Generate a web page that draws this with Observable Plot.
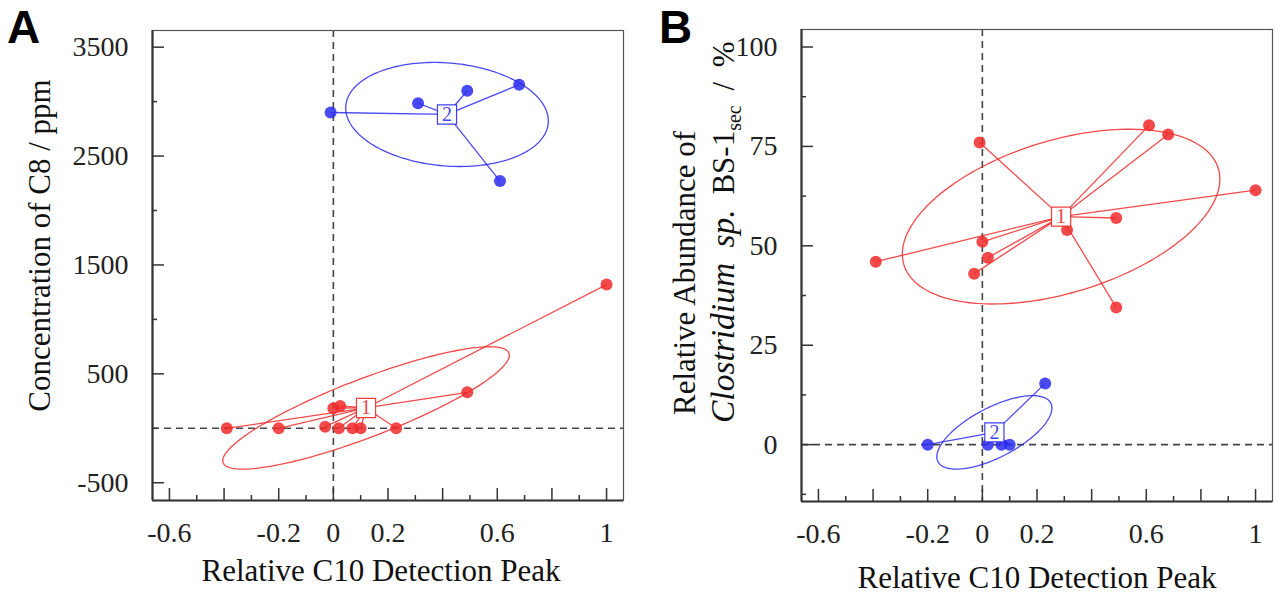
<!DOCTYPE html>
<html><head><meta charset="utf-8">
<script src="https://cdn.jsdelivr.net/npm/d3@7"></script>
<script src="https://cdn.jsdelivr.net/npm/@observablehq/plot@0.6"></script>
<style>
html,body{margin:0;padding:0;background:#fff;}
#wrap{position:relative;width:1276px;height:599px;overflow:hidden;background:#fff;}
.panel{position:absolute;top:0;z-index:1;}
.letter{position:absolute;z-index:5;font-family:'Liberation Sans',Arial,sans-serif;font-weight:bold;font-size:46px;line-height:1;color:#000;}
</style></head><body>
<div id="wrap">
  <div class="letter" style="left:7px;top:4px;">A</div>
  <div class="letter" style="left:659px;top:4px;">B</div>
</div>
<script>
// ---- axis ticks / labels ----
const xTickMajor = [-0.6, -0.4, -0.2, 0, 0.2, 0.4, 0.6, 0.8, 1.0];
const xTickMinor = [-0.5, -0.3, -0.1, 0.1, 0.3, 0.5, 0.7, 0.9];
const xTickLabels = ["-0.6", "-0.2", "0", "0.2", "0.6", "1"];
const xTitle = "Relative C10 Detection Peak";

const aYTickMajor = [-500, 500, 1500, 2500, 3500];
const aYTickMinor = [0, 1000, 2000, 3000];
const aYTickLabels = ["-500", "500", "1500", "2500", "3500"];
const aYTitle = "Concentration of C8 / ppm";

const bYTickMajor = [0, 25, 50, 75, 100];
const bYTickMinor = [-12.5, 12.5, 37.5, 62.5, 87.5];
const bYTickLabels = ["0", "25", "50", "75", "100"];
const bYTitleLine1 = "Relative Abundance of";
const bYTitleItalic = "Clostridium sp.";
const bYTitleRest = " BS-1";
const bYTitleSub = "sec";
const bYTitleEnd = " / %";

// ---- groups ----
const groupLabels = ["1", "2"];
const groupColors = ["#f02a2a", "#2a2af0"];

// ---- Panel A data ----
const aGroup1X = [-0.39, -0.2, -0.03, 0, 0.025, 0.02, 0.07, 0.1, 0.23, 0.49, 1.0];
const aGroup1Y = [0, 0, 15, 185, 205, 0, 0, 0, 0, 330, 1320];
const aGroup2X = [-0.01, 0.31, 0.49, 0.68, 0.61];
const aGroup2Y = [2900, 2985, 3100, 3155, 2270];

// ---- Panel B data ----
const bGroup1X = [-0.39, -0.03, 0, 0.02, -0.01, 0.31, 0.49, 0.49, 0.61, 0.68, 1.0];
const bGroup1Y = [46, 43, 51, 47, 76, 54, 57, 34.5, 80.3, 78, 64];
const bGroup2X = [-0.2, 0.02, 0.07, 0.1, 0.23];
const bGroup2Y = [0, 0, 0, 0, 15.4];

// ellipse: centroid +/- 1.5 * population std (ade4 s.class style)
function ellipse(xs, ys, k = 1.5, n = 180) {
  const N = xs.length;
  const mx = d3.mean(xs), my = d3.mean(ys);
  const vx = d3.sum(xs, x => (x - mx) ** 2) / N;
  const vy = d3.sum(ys, y => (y - my) ** 2) / N;
  const cxy = d3.sum(xs.map((x, i) => (x - mx) * (ys[i] - my))) / N;
  const a = Math.sqrt(vx), b = cxy / a, c = Math.sqrt(Math.max(0, vy - b * b));
  return d3.range(n).map(i => {
    const t = 2 * Math.PI * i / n, u = Math.cos(t), v = Math.sin(t);
    return {x: mx + k * a * u, y: my + k * (b * u + c * v)};
  });
}

function makePanel(o) {
  const H = 599;
  const pw = o.width - o.ml - o.mr, ph = H - o.mt - o.mb;
  const axisStroke = "#333";
  const marks = [
    Plot.ruleX([0], {stroke: "#444", strokeWidth: 1.6, strokeDasharray: "7,5"}),
    Plot.ruleY([0], {stroke: "#444", strokeWidth: 1.6, strokeDasharray: "7,5"}),
    Plot.frame({stroke: "#555", strokeWidth: 1.2}),
    Plot.ruleX([o.xDomain[0]], {stroke: axisStroke, strokeWidth: 2.2}),
    Plot.ruleY([o.yDomain[0]], {stroke: axisStroke, strokeWidth: 2.2}),
    Plot.tickX(xTickMajor, {x: d => d, insetTop: ph - 12, stroke: axisStroke, strokeWidth: 1.5}),
    Plot.tickX(xTickMinor, {x: d => d, insetTop: ph - 5, stroke: axisStroke, strokeWidth: 1.5}),
    Plot.tickY(o.yMajor, {y: d => d, insetRight: pw - 12, stroke: axisStroke, strokeWidth: 1.5}),
    Plot.tickY(o.yMinor, {y: d => d, insetRight: pw - 5, stroke: axisStroke, strokeWidth: 1.5})
  ];
  const groups = o.groups.map(g => ({
    ...g,
    pts: g.xs.map((x, i) => ({x, y: g.ys[i]})),
    mx: d3.mean(g.xs), my: d3.mean(g.ys)
  }));
  for (const g of groups) {
    marks.push(Plot.link(g.pts, {x1: () => g.mx, y1: () => g.my, x2: "x", y2: "y", stroke: g.color, strokeWidth: 1.3, strokeOpacity: 0.85}));
    marks.push(Plot.line(ellipse(g.xs, g.ys), {x: "x", y: "y", curve: "linear-closed", stroke: g.color, strokeWidth: 1.3, strokeOpacity: 0.85}));
  }
  for (const g of groups) {
    marks.push(Plot.dot(g.pts, {x: "x", y: "y", r: 6, fill: g.color, fillOpacity: 0.85}));
  }
  for (const g of groups) {
    const c = [{x: g.mx, y: g.my}];
    marks.push(Plot.dot(c, {x: "x", y: "y", symbol: "square", r: 10.8, fill: "white", stroke: g.color, strokeWidth: 1.2, strokeOpacity: 0.9}));
    marks.push(Plot.text(c, {x: "x", y: "y", text: () => g.label, fontSize: 20, fill: g.color, fillOpacity: 0.9, lineAnchor: "middle"}));
  }
  marks.push(Plot.text(xTickLabels, {x: d => +d, text: d => d, frameAnchor: "bottom", dy: 33, lineAnchor: "middle", fontSize: 28, fill: "#222"}));
  marks.push(Plot.text(o.yLabels, {y: d => +d, text: d => d, frameAnchor: "left", dx: -24, textAnchor: "end", lineAnchor: "middle", fontSize: 28, fill: "#222"}));
  marks.push(Plot.text([xTitle], {text: d => d, frameAnchor: "bottom", dy: o.xTitleDy, dx: o.xTitleDx, textAnchor: "middle", lineAnchor: "middle", fontSize: 31, fill: "#111"}));
  if (o.yTitle) {
    marks.push(Plot.text([o.yTitle], {text: d => d, frameAnchor: "left", rotate: -90, dx: o.yTitleDx, dy: o.yTitleDy, textAnchor: "middle", lineAnchor: "middle", fontSize: 31, fill: "#111"}));
  }
  const svg = Plot.plot({
    width: o.width, height: H,
    marginLeft: o.ml, marginRight: o.mr, marginTop: o.mt, marginBottom: o.mb,
    x: {domain: o.xDomain, axis: null},
    y: {domain: o.yDomain, axis: null},
    style: {fontFamily: "'Liberation Serif', 'Times New Roman', serif", background: "white", overflow: "visible"},
    marks
  });
  svg.classList.add("panel");
  svg.style.left = o.left + "px";
  return svg;
}

const wrap = document.getElementById("wrap");

const svgA = makePanel({
  left: 0, width: 640, ml: 152, mr: 17, mt: 30, mb: 99,
  xDomain: [-0.662, 1.062], yDomain: [-663, 3653],
  yMajor: aYTickMajor, yMinor: aYTickMinor, yLabels: aYTickLabels,
  xTitleDy: 71, xTitleDx: -7,
  yTitle: aYTitle, yTitleDx: -112, yTitleDy: -20,
  groups: [
    {xs: aGroup1X, ys: aGroup1Y, label: groupLabels[0], color: groupColors[0]},
    {xs: aGroup2X, ys: aGroup2Y, label: groupLabels[1], color: groupColors[1]}
  ]
});
wrap.appendChild(svgA);

const svgB = makePanel({
  left: 640, width: 636, ml: 161, mr: 4, mt: 29, mb: 98,
  xDomain: [-0.662, 1.062], yDomain: [-14.3, 104.4],
  yMajor: bYTickMajor, yMinor: bYTickMinor, yLabels: bYTickLabels,
  xTitleDy: 77, xTitleDx: 0,
  yTitle: null,
  groups: [
    {xs: bGroup1X, ys: bGroup1Y, label: groupLabels[0], color: groupColors[0]},
    {xs: bGroup2X, ys: bGroup2Y, label: groupLabels[1], color: groupColors[1]}
  ]
});
wrap.appendChild(svgB);

// two-line y title of panel B with italic and subscript parts
const sb = d3.select(svgB);
sb.append("text")
  .attr("transform", "translate(55,415) rotate(-90)")
  .attr("text-anchor", "start")
  .attr("font-size", 31).attr("fill", "#111")
  .text(bYTitleLine1);
const t2 = sb.append("text")
  .attr("transform", "translate(94,423) rotate(-90)")
  .attr("text-anchor", "start")
  .attr("font-size", 31).attr("fill", "#111")
  .attr("word-spacing", "7px");
t2.append("tspan").attr("font-style", "italic").attr("font-size", 33.5).text(bYTitleItalic);
t2.append("tspan").text(bYTitleRest);
t2.append("tspan").attr("font-size", 20).attr("dy", 7).text(bYTitleSub);
t2.append("tspan").attr("dy", -7).text(bYTitleEnd);
</script>
</body></html>
